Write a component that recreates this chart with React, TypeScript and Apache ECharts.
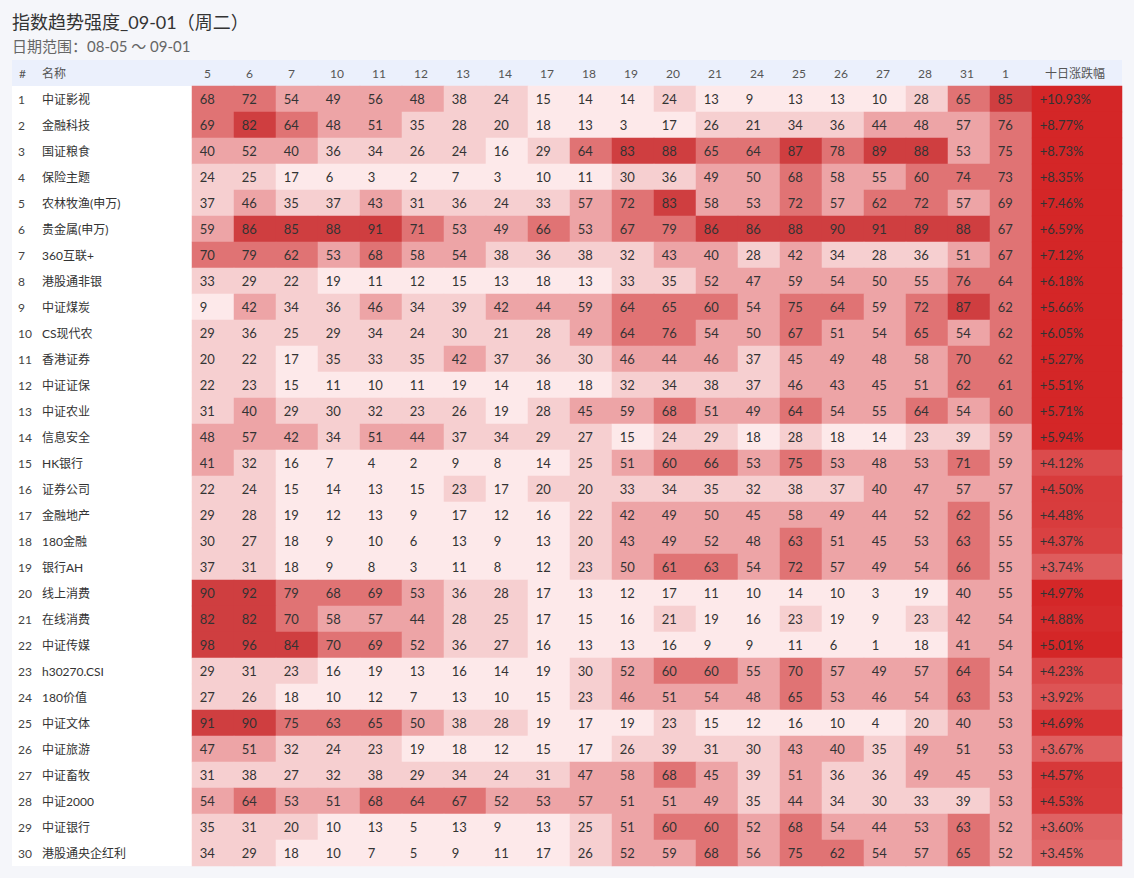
import React, { useEffect, useRef } from "react";
import * as echarts from "echarts";

const dates = ["5", "6", "7", "10", "11", "12", "13", "14", "17", "18", "19", "20", "21", "24", "25", "26", "27", "28", "31", "1"];
const lastColumnTitle = "十日涨跌幅";

const names = [
  "中证影视", "金融科技", "国证粮食", "保险主题", "农林牧渔(申万)", "贵金属(申万)", "360互联+", "港股通非银",
  "中证煤炭", "CS现代农", "香港证券", "中证证保", "中证农业", "信息安全", "HK银行", "证券公司", "金融地产",
  "180金融", "银行AH", "线上消费", "在线消费", "中证传媒", "h30270.CSI", "180价值", "中证文体", "中证旅游",
  "中证畜牧", "中证2000", "中证银行", "港股通央企红利",
];

const scores: number[][] = [
  [68, 72, 54, 49, 56, 48, 38, 24, 15, 14, 14, 24, 13, 9, 13, 13, 10, 28, 65, 85],
  [69, 82, 64, 48, 51, 35, 28, 20, 18, 13, 3, 17, 26, 21, 34, 36, 44, 48, 57, 76],
  [40, 52, 40, 36, 34, 26, 24, 16, 29, 64, 83, 88, 65, 64, 87, 78, 89, 88, 53, 75],
  [24, 25, 17, 6, 3, 2, 7, 3, 10, 11, 30, 36, 49, 50, 68, 58, 55, 60, 74, 73],
  [37, 46, 35, 37, 43, 31, 36, 24, 33, 57, 72, 83, 58, 53, 72, 57, 62, 72, 57, 69],
  [59, 86, 85, 88, 91, 71, 53, 49, 66, 53, 67, 79, 86, 86, 88, 90, 91, 89, 88, 67],
  [70, 79, 62, 53, 68, 58, 54, 38, 36, 38, 32, 43, 40, 28, 42, 34, 28, 36, 51, 67],
  [33, 29, 22, 19, 11, 12, 15, 13, 18, 13, 33, 35, 52, 47, 59, 54, 50, 55, 76, 64],
  [9, 42, 34, 36, 46, 34, 39, 42, 44, 59, 64, 65, 60, 54, 75, 64, 59, 72, 87, 62],
  [29, 36, 25, 29, 34, 24, 30, 21, 28, 49, 64, 76, 54, 50, 67, 51, 54, 65, 54, 62],
  [20, 22, 17, 35, 33, 35, 42, 37, 36, 30, 46, 44, 46, 37, 45, 49, 48, 58, 70, 62],
  [22, 23, 15, 11, 10, 11, 19, 14, 18, 18, 32, 34, 38, 37, 46, 43, 45, 51, 62, 61],
  [31, 40, 29, 30, 32, 23, 26, 19, 28, 45, 59, 68, 51, 49, 64, 54, 55, 64, 54, 60],
  [48, 57, 42, 34, 51, 44, 37, 34, 29, 27, 15, 24, 29, 18, 28, 18, 14, 23, 39, 59],
  [41, 32, 16, 7, 4, 2, 9, 8, 14, 25, 51, 60, 66, 53, 75, 53, 48, 53, 71, 59],
  [22, 24, 15, 14, 13, 15, 23, 17, 20, 20, 33, 34, 35, 32, 38, 37, 40, 47, 57, 57],
  [29, 28, 19, 12, 13, 9, 17, 12, 16, 22, 42, 49, 50, 45, 58, 49, 44, 52, 62, 56],
  [30, 27, 18, 9, 10, 6, 13, 9, 13, 20, 43, 49, 52, 48, 63, 51, 45, 53, 63, 55],
  [37, 31, 18, 9, 8, 3, 11, 8, 12, 23, 50, 61, 63, 54, 72, 57, 49, 54, 66, 55],
  [90, 92, 79, 68, 69, 53, 36, 28, 17, 13, 12, 17, 11, 10, 14, 10, 3, 19, 40, 55],
  [82, 82, 70, 58, 57, 44, 28, 25, 17, 15, 16, 21, 19, 16, 23, 19, 9, 23, 42, 54],
  [98, 96, 84, 70, 69, 52, 36, 27, 16, 13, 13, 16, 9, 9, 11, 6, 1, 18, 41, 54],
  [29, 31, 23, 16, 19, 13, 16, 14, 19, 30, 52, 60, 60, 55, 70, 57, 49, 57, 64, 54],
  [27, 26, 18, 10, 12, 7, 13, 10, 15, 23, 46, 51, 54, 48, 65, 53, 46, 54, 63, 53],
  [91, 90, 75, 63, 65, 50, 38, 28, 19, 17, 19, 23, 15, 12, 16, 10, 4, 20, 40, 53],
  [47, 51, 32, 24, 23, 19, 18, 12, 15, 17, 26, 39, 31, 30, 43, 40, 35, 49, 51, 53],
  [31, 38, 27, 32, 38, 29, 34, 24, 31, 47, 58, 68, 45, 39, 51, 36, 36, 49, 45, 53],
  [54, 64, 53, 51, 68, 64, 67, 52, 53, 57, 51, 51, 49, 35, 44, 34, 30, 33, 39, 53],
  [35, 31, 20, 10, 13, 5, 13, 9, 13, 25, 51, 60, 60, 52, 68, 54, 44, 53, 63, 52],
  [34, 29, 18, 10, 7, 5, 9, 11, 17, 26, 52, 59, 68, 56, 75, 62, 54, 57, 65, 52],
];

const tenDayChange = [
  10.93, 8.77, 8.73, 8.35, 7.46, 6.59, 7.12, 6.18, 5.66, 6.05, 5.27, 5.51, 5.71, 5.94, 4.12,
  4.5, 4.48, 4.37, 3.74, 4.97, 4.88, 5.01, 4.23, 3.92, 4.69, 3.67, 4.57, 4.53, 3.6, 3.45,
];

const FONT = "Lato, 'Noto Sans CJK SC', sans-serif";

export default function App() {
  const ref = useRef<HTMLDivElement>(null);

  useEffect(() => {
    if (!ref.current) return;
    const chart = echarts.init(ref.current, undefined, { renderer: "svg" });

    const scoreData: number[][] = [];
    scores.forEach((row, r) => row.forEach((v, c) => scoreData.push([c, r, v])));
    const changeData = tenDayChange.map((v, r) => [0, r, v]);

    const headerAxis = (gridIndex: number, data: string[]) => ({
      type: "category",
      gridIndex,
      position: "top",
      data,
      z: 5,
      axisLine: { show: false },
      axisTick: { show: false },
      splitLine: { show: false },
      splitArea: { show: false },
      axisLabel: {
        interval: 0,
        margin: 6,
        color: "#555",
        fontSize: 12,
        formatter: (v: string) => (v === lastColumnTitle ? `{h|${v}}` : `{d|${v}}`),
        rich: {
          d: { width: 18, align: "left", fontSize: 12, color: "#555", lineHeight: 14 },
          h: { width: 64, align: "left", fontSize: 12, color: "#555", lineHeight: 14 },
        },
      },
    });

    const option = {
      animation: false,
      backgroundColor: "#f5f6fa",
      textStyle: { fontFamily: FONT },
      title: {
        text: "指数趋势强度_09-01（周二）",
        subtext: "日期范围：08-05 ～ 09-01",
        left: 7,
        top: 8,
        itemGap: 8,
        textStyle: { fontSize: 18, fontWeight: "normal", color: "#333", fontFamily: FONT },
        subtextStyle: { fontSize: 15, color: "#666", fontFamily: FONT },
      },
      grid: [
        { left: 192, width: 840, top: 86, height: 780 },
        { left: 1032, width: 90, top: 86, height: 780 },
      ],
      graphic: [
        { type: "rect", z: -10, shape: { x: 12, y: 86, width: 1110, height: 780 }, style: { fill: "#ffffff" } },
        { type: "rect", z: -10, shape: { x: 12, y: 60, width: 1110, height: 26 }, style: { fill: "#ebf0fc" } },
        { type: "text", x: 19, y: 73, style: { text: "#", fontSize: 12, fill: "#555", verticalAlign: "middle", fontFamily: FONT } },
        { type: "text", x: 42, y: 73, style: { text: "名称", fontSize: 12, fill: "#555", verticalAlign: "middle", fontFamily: FONT } },
      ],
      xAxis: [headerAxis(0, dates), headerAxis(1, [lastColumnTitle])],
      yAxis: [
        {
          type: "category",
          gridIndex: 0,
          inverse: true,
          data: names,
          z: 5,
          axisLine: { show: false },
          axisTick: { show: false },
          splitLine: { show: false },
          axisLabel: {
            interval: 0,
            align: "left",
            margin: 174,
            fontSize: 12,
            formatter: (v: string, i: number) => `{i|${i + 1}}{n|${v}}`,
            rich: {
              i: { width: 24, color: "#444", fontSize: 12 },
              n: { color: "#333", fontSize: 12 },
            },
          },
        },
        {
          type: "category",
          gridIndex: 1,
          inverse: true,
          data: names,
          axisLine: { show: false },
          axisTick: { show: false },
          splitLine: { show: false },
          axisLabel: { show: false },
        },
      ],
      visualMap: [
        {
          type: "piecewise",
          show: false,
          seriesIndex: 0,
          dimension: 2,
          pieces: [
            { lt: 20, color: "#fde9ea" },
            { gte: 20, lt: 40, color: "#f6cfd0" },
            { gte: 40, lt: 60, color: "#eda4a6" },
            { gte: 60, lt: 80, color: "#e07374" },
            { gte: 80, color: "#cf3e40" },
          ],
        },
        {
          type: "continuous",
          show: false,
          seriesIndex: 1,
          dimension: 2,
          min: 3.4,
          max: 5.0,
          inRange: { color: ["#e16a6b", "#d42627"] },
        },
      ],
      series: [
        {
          type: "heatmap",
          xAxisIndex: 0,
          yAxisIndex: 0,
          data: scoreData,
          itemStyle: { borderWidth: 0 },
          emphasis: { disabled: true },
          label: {
            show: true,
            position: "insideLeft",
            distance: 8,
            color: "#333",
            fontSize: 13,
            fontFamily: FONT,
            formatter: (p: any) => String(p.value[2]),
          },
        },
        {
          type: "heatmap",
          xAxisIndex: 1,
          yAxisIndex: 1,
          data: changeData,
          itemStyle: { borderWidth: 0 },
          emphasis: { disabled: true },
          label: {
            show: true,
            position: "insideLeft",
            distance: 8,
            color: "#333",
            fontSize: 13,
            fontFamily: FONT,
            formatter: (p: any) => "+" + p.value[2].toFixed(2) + "%",
          },
        },
      ],
    };

    chart.setOption(option as any);
    return () => chart.dispose();
  }, []);

  return <div ref={ref} style={{ position: "fixed", left: 0, top: 0, width: 1134, height: 878 }} />;
}
